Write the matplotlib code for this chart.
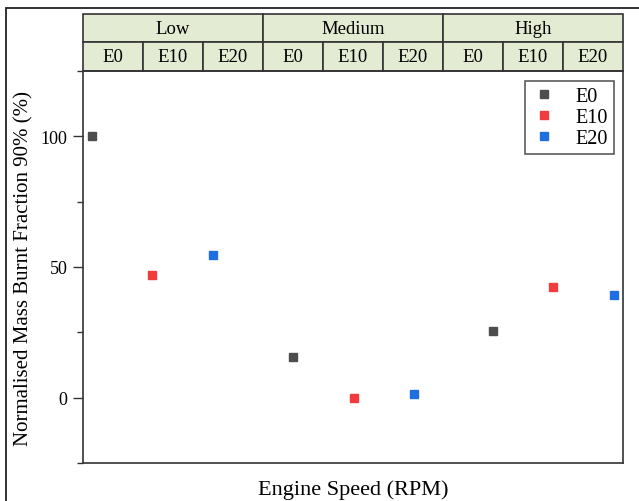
import matplotlib
matplotlib.use("Agg")
import matplotlib.pyplot as plt
from matplotlib.patches import Rectangle
from matplotlib.ticker import MultipleLocator

plt.rcParams['font.family'] = ['Liberation Serif', 'DejaVu Serif']

# data
groups = ["Low", "Medium", "High"]
fuels = ["E0", "E10", "E20"]
colors = ["#4d4d4d", "#f03c3c", "#1f6fe0"]

x_e0 = [0.155, 3.505, 6.84]
x_e10 = [1.155, 4.51, 7.84]
x_e20 = [2.16, 5.51, 8.845]
y_e0 = [100, 15.4, 25.7]
y_e10 = [46.9, 0, 42.4]
y_e20 = [54.5, 1.3, 39.4]

W, H = 639, 502
fig = plt.figure(figsize=(W / 100, H / 100), dpi=100)
ax = fig.add_axes([83 / W, (H - 464) / H, 540 / W, 392 / H])

# outer frame (cut by the picture on right/bottom)
fig.patches.append(Rectangle((6 / W, -0.2), 1.2, 0.2 + (H - 9) / H,
                             transform=fig.transFigure, fill=False,
                             edgecolor="#222222", lw=1.3))

for xs, ys, c, lab in zip([x_e0, x_e10, x_e20], [y_e0, y_e10, y_e20], colors, fuels):
    ax.plot(xs, ys, ls="none", marker="s", ms=6.3, color=c, mec=c, label=lab)

ax.set_xlim(0, 9)
ax.set_ylim(-25, 125)
ax.yaxis.set_major_locator(MultipleLocator(50))
ax.yaxis.set_minor_locator(MultipleLocator(25))
ax.set_xticks([])
ax.tick_params(axis="y", which="major", direction="out", length=7, width=1, labelsize=13, pad=4, colors="#333333")
ax.tick_params(axis="y", which="minor", direction="out", length=4, width=1, colors="#333333")
ax.tick_params(axis="y", labelcolor="black")
for s in ax.spines.values():
    s.set_linewidth(1.2)
    s.set_color("#333333")

ax.set_ylabel("Normalised Mass Burnt Fraction 90% (%)", fontsize=15, labelpad=5)
ax.set_xlabel("Engine Speed (RPM)", fontsize=16, labelpad=12)

# header table
tr = ax.get_xaxis_transform()
r1 = 29 / 392
r2 = 57 / 392
for i, g in enumerate(groups):
    ax.add_patch(Rectangle((i * 3, 1 + r1), 3, r2 - r1, transform=tr, clip_on=False,
                           facecolor="#e3ebd3", edgecolor="#333333", lw=1.2))
    ax.text(i * 3 + 1.5, 1 + (r1 + r2) / 2, g, transform=tr, ha="center", va="center", fontsize=13.5)
    for j, f in enumerate(fuels):
        k = i * 3 + j
        ax.add_patch(Rectangle((k, 1), 1, r1, transform=tr, clip_on=False,
                               facecolor="#e3ebd3", edgecolor="#333333", lw=1.2))
        ax.text(k + 0.5, 1 + r1 / 2, f, transform=tr, ha="center", va="center", fontsize=13.5)

leg = ax.legend(loc="upper right", bbox_to_anchor=(0.983, 0.9745), borderaxespad=0,
                fancybox=False, edgecolor="#333333", fontsize=14.5, handletextpad=0.9,
                borderpad=0.3, labelspacing=0.1, handlelength=1.3)
leg.get_frame().set_linewidth(1.2)

fig.savefig("out.png", dpi=100)
